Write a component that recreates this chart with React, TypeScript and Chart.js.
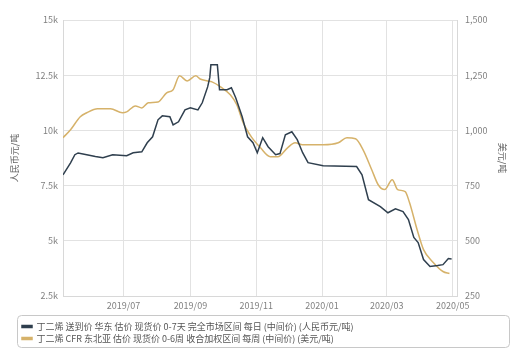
import React, { useEffect, useRef } from "react";
import { Chart, registerables } from "chart.js";

Chart.register(...registerables);

// ---- data ----
const cnyDates = [
  "2019-05-06", "2019-05-13", "2019-05-17", "2019-05-20", "2019-05-28", "2019-06-05",
  "2019-06-12", "2019-06-21", "2019-07-04", "2019-07-10", "2019-07-18", "2019-07-23",
  "2019-07-28", "2019-08-02", "2019-08-06", "2019-08-13", "2019-08-16", "2019-08-21",
  "2019-08-27", "2019-09-01", "2019-09-08", "2019-09-12", "2019-09-17", "2019-09-19",
  "2019-09-20", "2019-09-26", "2019-09-28", "2019-10-05", "2019-10-09", "2019-10-13",
  "2019-10-19", "2019-10-24", "2019-10-29", "2019-11-02", "2019-11-07", "2019-11-12",
  "2019-11-19", "2019-11-23", "2019-11-28", "2019-12-04", "2019-12-09", "2019-12-14",
  "2019-12-19", "2020-01-02", "2020-02-02", "2020-02-07", "2020-02-13", "2020-02-24",
  "2020-03-02", "2020-03-09", "2020-03-16", "2020-03-21", "2020-03-26", "2020-03-30",
  "2020-04-04", "2020-04-10", "2020-04-17", "2020-04-22", "2020-04-27", "2020-04-30",
];
const cnyValues = [
  7990, 8530, 8900, 8980, 8900, 8820,
  8760, 8900, 8850, 8990, 9030, 9440,
  9710, 10480, 10660, 10620, 10250, 10390,
  10930, 11020, 10930, 11250, 11970, 12400,
  12970, 12970, 11840, 11840, 11930, 11480,
  10620, 9710, 9440, 8990, 9670, 9260,
  8900, 8950, 9800, 9940, 9580, 8990,
  8540, 8400, 8360, 7990, 6860, 6550,
  6270, 6450, 6320, 5960, 5150, 4920,
  4150, 3840, 3880, 3920, 4200, 4180,
];

const usdDates = [
  "2019-05-06", "2019-05-13", "2019-05-22", "2019-05-28", "2019-06-07", "2019-06-19",
  "2019-06-30", "2019-07-04", "2019-07-12", "2019-07-18", "2019-07-24", "2019-08-02",
  "2019-08-10", "2019-08-16", "2019-08-22", "2019-08-29", "2019-09-06", "2019-09-10",
  "2019-09-17", "2019-09-21", "2019-09-29", "2019-10-08", "2019-10-14", "2019-10-20",
  "2019-10-28", "2019-11-05", "2019-11-14", "2019-11-21", "2019-11-30", "2019-12-07",
  "2019-12-14", "2020-01-02", "2020-01-16", "2020-01-24", "2020-02-01", "2020-02-08",
  "2020-02-16", "2020-02-22", "2020-02-28", "2020-03-06", "2020-03-11", "2020-03-18",
  "2020-03-22", "2020-03-29", "2020-04-04", "2020-04-13", "2020-04-22", "2020-04-28",
];
const usdValues = [
  967, 1003, 1062, 1080, 1098, 1098,
  1080, 1084, 1111, 1102, 1125, 1129,
  1170, 1184, 1247, 1224, 1247, 1233,
  1224, 1220, 1197, 1161, 1116, 1034,
  967, 921, 881, 881, 921, 944,
  935, 935, 944, 967, 962, 912,
  822, 754, 732, 777, 732, 723,
  673, 551, 460, 402, 361, 352,
];

const seriesNames = [
  "丁二烯 送到价 华东 估价 现货价 0-7天 完全市场区间 每日 (中间价) (人民币元/吨)",
  "丁二烯 CFR 东北亚 估价 现货价 0-6周 收合加权区间 每周 (中间价) (美元/吨)",
];

const xRange = ["2019-05-06", "2020-05-05"];
const xTickDates = ["2019-07-01", "2019-09-01", "2019-11-01", "2020-01-01", "2020-03-01", "2020-05-01"];
const xTickLabels = ["2019/07", "2019/09", "2019/11", "2020/01", "2020/03", "2020/05"];

const leftTickValues = [2500, 5000, 7500, 10000, 12500, 15000];
const leftTickLabels = ["2.5k", "5k", "7.5k", "10k", "12.5k", "15k"];
const rightTickValues = [250, 500, 750, 1000, 1250, 1500];
const rightTickLabels = ["250", "500", "750", "1,000", "1,250", "1,500"];

const leftTitle = "人民币元/吨";
const rightTitle = "美元/吨";

// ---- helpers ----
const toDay = (s: string) => {
  const [y, m, d] = s.split("-").map(Number);
  return Date.UTC(y, m - 1, d) / 86400000;
};

const FONT = "'Noto Sans CJK SC', 'Noto Sans', sans-serif";

const legendBoxPlugin = {
  id: "legendBox",
  afterDraw(chart: any) {
    const l = chart.legend;
    if (!l) return;
    const ctx = chart.ctx;
    ctx.save();
    ctx.strokeStyle = "#c8c8c8";
    ctx.lineWidth = 1;
    ctx.beginPath();
    const x = l.left - 1.5;
    const y = l.top - 3.5;
    const w = l.right - l.left + 2;
    const h = 32;
    if (ctx.roundRect) ctx.roundRect(x, y, w, h, 4);
    else ctx.rect(x, y, w, h);
    ctx.stroke();
    ctx.restore();
  },
};

export default function App() {
  const ref = useRef<HTMLCanvasElement | null>(null);

  useEffect(() => {
    if (!ref.current) return;
    const chart = new Chart(ref.current, {
      type: "line",
      data: {
        datasets: [
          {
            label: seriesNames[0],
            data: cnyDates.map((d, i) => ({ x: toDay(d), y: cnyValues[i] })),
            borderColor: "#2f3f4e",
            backgroundColor: "#2f3f4e",
            borderWidth: 1.5,
            pointRadius: 0,
            tension: 0,
            yAxisID: "y",
          },
          {
            label: seriesNames[1],
            data: usdDates.map((d, i) => ({ x: toDay(d), y: usdValues[i] })),
            borderColor: "#d6b26a",
            backgroundColor: "#d6b26a",
            borderWidth: 1.5,
            pointRadius: 0,
            cubicInterpolationMode: "monotone",
            yAxisID: "y1",
          },
        ],
      },
      options: {
        animation: false,
        responsive: true,
        maintainAspectRatio: false,
        layout: { padding: { left: 19, right: 14, top: 20, bottom: 9 } },
        plugins: {
          legend: {
            display: true,
            position: "bottom",
            align: "start",
            labels: {
              boxWidth: 10,
              boxHeight: 2,
              padding: 3,
              color: "#555",
              font: { family: FONT, size: 9 },
            },
          },
          tooltip: { enabled: false },
        },
        scales: {
          x: {
            type: "linear",
            min: toDay(xRange[0]),
            max: toDay(xRange[1]),
            afterBuildTicks: (scale: any) => {
              scale.ticks = xTickDates.map((d) => ({ value: toDay(d) }));
            },
            afterFit: (scale: any) => {
              scale.height = 23;
            },
            ticks: {
              autoSkip: false,
              maxRotation: 0,
              padding: 4,
              color: "#808080",
              font: { family: FONT, size: 9 },
              callback: (v: any) => {
                const i = xTickDates.findIndex((d) => toDay(d) === v);
                return i >= 0 ? xTickLabels[i] : "";
              },
            },
            grid: { color: "#e2e2e2", drawTicks: false },
            border: { color: "#d8d8d8" },
          },
          y: {
            position: "left",
            min: leftTickValues[0],
            max: leftTickValues[leftTickValues.length - 1],
            afterBuildTicks: (scale: any) => {
              scale.ticks = leftTickValues.map((v) => ({ value: v }));
            },
            afterFit: (scale: any) => {
              scale.width = 44;
            },
            ticks: {
              padding: 5,
              color: "#808080",
              font: { family: FONT, size: 9 },
              callback: (v: any) => {
                const i = leftTickValues.indexOf(v);
                return i >= 0 ? leftTickLabels[i] : "";
              },
            },
            grid: { color: "#e2e2e2", drawTicks: false },
            border: { color: "#d8d8d8" },
            title: {
              display: true,
              text: leftTitle,
              color: "#666",
              font: { family: FONT, size: 9 },
              padding: { top: -10, bottom: 0 },
            },
          },
          y1: {
            position: "right",
            min: rightTickValues[0],
            max: rightTickValues[rightTickValues.length - 1],
            afterBuildTicks: (scale: any) => {
              scale.ticks = rightTickValues.map((v) => ({ value: v }));
            },
            afterFit: (scale: any) => {
              scale.width = 52;
            },
            ticks: {
              padding: 8,
              color: "#808080",
              font: { family: FONT, size: 9 },
              callback: (v: any) => {
                const i = rightTickValues.indexOf(v);
                return i >= 0 ? rightTickLabels[i] : "";
              },
            },
            grid: { drawOnChartArea: false, drawTicks: false },
            border: { color: "#d8d8d8" },
            title: {
              display: true,
              text: rightTitle,
              color: "#666",
              font: { family: FONT, size: 9 },
              padding: { top: 1, bottom: 0 },
            },
          },
        },
      },
      plugins: [legendBoxPlugin],
    } as any);
    return () => chart.destroy();
  }, []);

  return (
    <div style={{ position: "fixed", left: 0, top: 0, width: 523, height: 362, background: "#fff" }}>
      <canvas ref={ref} />
    </div>
  );
}
